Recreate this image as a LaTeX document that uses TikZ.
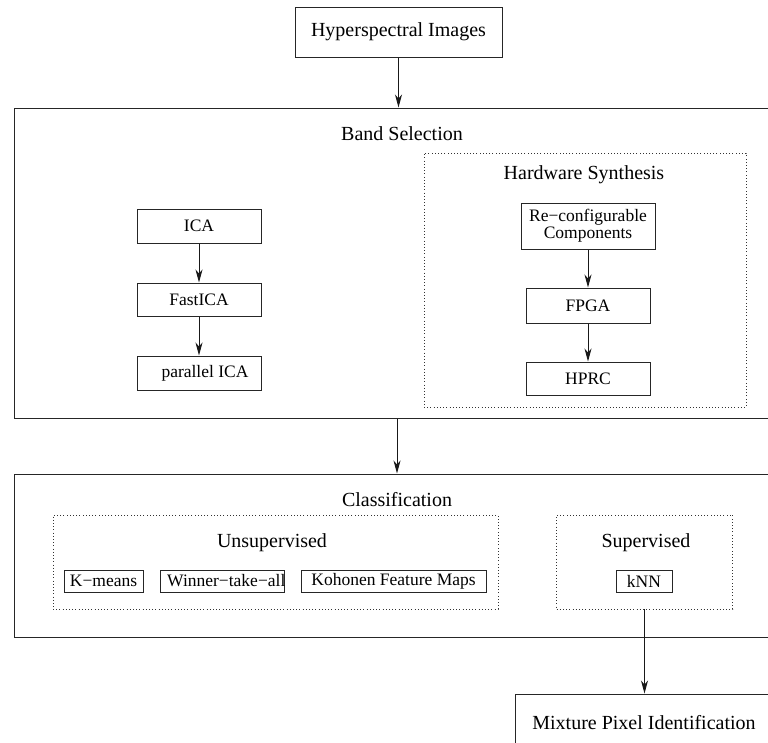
\documentclass[tikz,border=0pt]{standalone}
\usepackage{fontspec}
\setmainfont{Liberation Serif}
\usetikzlibrary{arrows.meta}

\begin{document}
\begin{tikzpicture}[x=1pt,y=-1pt,
  headtext/.style={font=\fontsize{20}{24}\selectfont, inner sep=0pt},
  itemtext/.style={font=\fontsize{17.5}{17}\selectfont, align=center},
  frame/.style={draw=black!85, line width=1pt, rectangle, inner sep=0pt},
  group/.style={draw=black!80, line width=0.8pt, dash pattern=on 0.8pt off 2.4pt, rectangle, inner sep=0pt},
  arr/.style={draw=black!90, line width=1pt, -{Stealth[length=13pt,width=7pt,inset=4pt]}},
]
\useasboundingbox (0,0) rectangle (768,742);
\clip (0,0) rectangle (768,742);

% input
\node[frame, headtext, minimum width=207, minimum height=50] (hyper) at (398.5,32) {Hyperspectral Images};

% band selection stage
\node[frame, minimum width=786, minimum height=310] (band) at (407,263) {};
\node[headtext] (bandlbl) at (402,134) {Band Selection};
\node[frame, itemtext, minimum width=124, minimum height=34] (ica) at (199,226) {ICA};
\node[frame, itemtext, minimum width=124, minimum height=33] (fastica) at (199,299.5) {FastICA};
\node[frame, minimum width=124, minimum height=34] (pica) at (199,373) {};
\node[itemtext] (picalbl) at (205,373) {parallel ICA};

\node[group, minimum width=322, minimum height=254] (hw) at (585,280) {};
\node[headtext] (hwlbl) at (584,175) {Hardware Synthesis};
\node[frame, itemtext, minimum width=134, minimum height=46] (reconf) at (588,226) {Re−configurable\\Components};
\node[frame, itemtext, minimum width=124, minimum height=35] (fpga) at (588,305.5) {FPGA};
\node[frame, itemtext, minimum width=124, minimum height=33] (hprc) at (588,378.5) {HPRC};

% classification stage
\node[frame, minimum width=786, minimum height=163] (class) at (407,555.5) {};
\node[headtext] (classlbl) at (397,500) {Classification};

\node[group, minimum width=445, minimum height=94] (unsup) at (275.5,562) {};
\node[headtext] (unsuplbl) at (272,543) {Unsupervised};
\node[frame, itemtext, minimum width=79, minimum height=22, inner sep=0pt] (kmeans) at (103.5,581) {K−means};
\node[frame, minimum width=124, minimum height=22] (winner) at (222,581) {};
\node[itemtext, anchor=west, inner sep=0pt] (winnerlbl) at (167,581) {Winner−take−all};
\node[frame, itemtext, minimum width=185, minimum height=22, inner sep=0pt] (kohonen) at (393.5,581) {Kohonen Feature Maps};

\node[group, minimum width=176, minimum height=94] (sup) at (644.5,562) {};
\node[headtext] (suplbl) at (646,543) {Supervised};
\node[frame, itemtext, minimum width=56, minimum height=22, inner sep=0pt] (knn) at (644,581) {kNN};

% output
\node[frame, minimum width=285, minimum height=106] (mix) at (657.5,747) {};
\node[headtext] (mixlbl) at (644,723) {Mixture Pixel Identification};

% flow
\coordinate (classx) at (397,0);
\draw[arr] (hyper.south) -- (hyper.south |- band.north);
\draw[arr] (ica) -- (fastica);
\draw[arr] (fastica) -- (pica);
\draw[arr] (reconf) -- (fpga);
\draw[arr] (fpga) -- (hprc);
\draw[arr] (classx |- band.south) -- (classx |- class.north);
\draw[arr] (sup.south) -- (sup.south |- mix.north);
\end{tikzpicture}
\end{document}
